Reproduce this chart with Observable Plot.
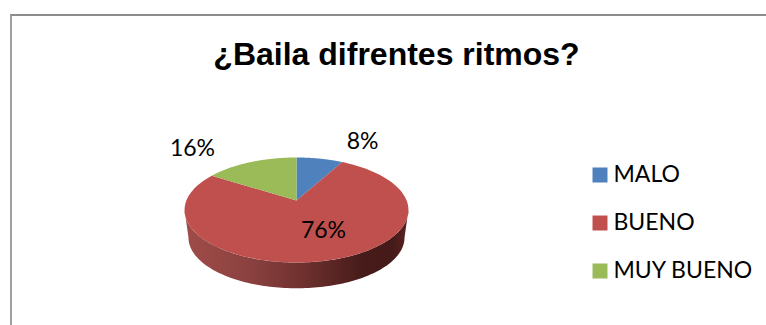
<!DOCTYPE html>
<html>
<head>
<meta charset="utf-8">
<script src="https://cdn.jsdelivr.net/npm/d3@7"></script>
<script src="https://cdn.jsdelivr.net/npm/@observablehq/plot@0.6"></script>
<style>
  html, body { margin: 0; padding: 0; background: #fff; }
  #chart { position: relative; width: 766px; height: 325px; overflow: hidden; }
  #edge { position: absolute; left: 10px; top: 14px; right: 0; bottom: 0;
          border-top: 2px solid #8c8c8c; border-left: 2px solid #a0a0a0; pointer-events: none; }
</style>
</head>
<body>
<div id="chart"><div id="edge"></div></div>
<script>
const titleText = "¿Baila difrentes ritmos?";
const categories = ["MALO", "BUENO", "MUY BUENO"];
const percents = [8, 76, 16];
const sliceColors = ["#4f81bd", "#c0504d", "#9bbb59"];

// Label anchors on the tilted pie plane (unit disc coordinates).
const labelX = [0.6, 0.245, -0.945];
const labelY = [1.16, -0.59, 1.02];

// Tilted-disc projection: the far side of the pie is foreshortened.
const tilt = 0.181;
const wallScale = 0.965;
const wallDrop = 0.55;
const project = (theta, r = 1) => {
  const w = 1 + tilt * r * Math.cos(theta);
  return [r * Math.sin(theta) / w, r * Math.cos(theta) / w];
};

const arcs = d3.pie().sort(null).value(d => d)(percents);

// Outline of each slice on the top face.
const sliceOutline = arcs.flatMap((a, i) => {
  const steps = d3.range(0, 121).map(k => a.startAngle + (a.endAngle - a.startAngle) * k / 120);
  return [[0, 0], ...steps.map(t => project(t))].map(([x, y]) => ({x, y, name: categories[i]}));
});

// Visible front wall, between the two silhouette angles of the rim.
const leftLimit = Math.PI * 2 - Math.acos(-tilt);
const rightLimit = Math.acos(-tilt);
const rimAngles = d3.range(0, 121).map(k => rightLimit + (leftLimit - rightLimit) * k / 120);
const wallOutline = [
  ...rimAngles.map(t => project(t)),
  ...rimAngles.slice().reverse().map(t => {
    const [x, y] = project(t);
    return [x * wallScale, y * wallScale - wallDrop];
  })
].map(([x, y]) => ({x, y}));

// Shading of the wall, from lit on the left to dark on the right.
const wallGradient = () => {
  const defs = d3.create("svg:defs");
  const g = defs.append("linearGradient").attr("id", "wallShade");
  [[0, "#a04c49"], [0.3, "#8a413f"], [0.55, "#6b2f2d"], [0.8, "#461b19"], [0.93, "#451a18"], [1, "#5a2422"]]
    .forEach(([o, c]) => g.append("stop").attr("offset", o).attr("stop-color", c));
  return defs.node();
};

const labelFont = "Lato, Carlito, sans-serif";

const plot = Plot.plot({
  width: 766,
  height: 325,
  margin: 0,
  style: {background: "none"},
  x: {domain: [-1, 1], range: [185.9, 406.1], axis: null},
  y: {domain: [-1, 1], range: [250.8, 149.2], axis: null},
  color: {domain: categories, range: sliceColors},
  marks: [
    wallGradient,
    Plot.line(wallOutline, {x: "x", y: "y", fill: "url(#wallShade)", stroke: "none"}),
    Plot.line(sliceOutline, {x: "x", y: "y", z: "name", fill: "name", stroke: "none"}),
    Plot.text(percents, {
      x: (d, i) => labelX[i],
      y: (d, i) => labelY[i],
      text: d => `${d}%`,
      fontFamily: labelFont,
      fontSize: 23,
      fill: "#000"
    }),
    Plot.text([titleText], {
      frameAnchor: "top-left",
      textAnchor: "middle",
      lineAnchor: "middle",
      dx: 396,
      dy: 54,
      fontFamily: "Liberation Sans, Arial, sans-serif",
      fontWeight: "bold",
      fontSize: 32,
      fill: "#000"
    }),
    ...categories.map((c, i) => Plot.dot([c], {
      frameAnchor: "top-left",
      dx: 599.5,
      dy: 174.5 + 48 * i,
      symbol: "square",
      r: 8.46,
      fill: d => d
    })),
    ...categories.map((c, i) => Plot.text([c], {
      frameAnchor: "top-left",
      lineAnchor: "middle",
      dx: 613,
      dy: 174.5 + 48 * i,
      textAnchor: "start",
      fontFamily: labelFont,
      fontSize: 23,
      fill: "#000"
    }))
  ]
});

document.getElementById("chart").prepend(plot);
</script>
</body>
</html>
